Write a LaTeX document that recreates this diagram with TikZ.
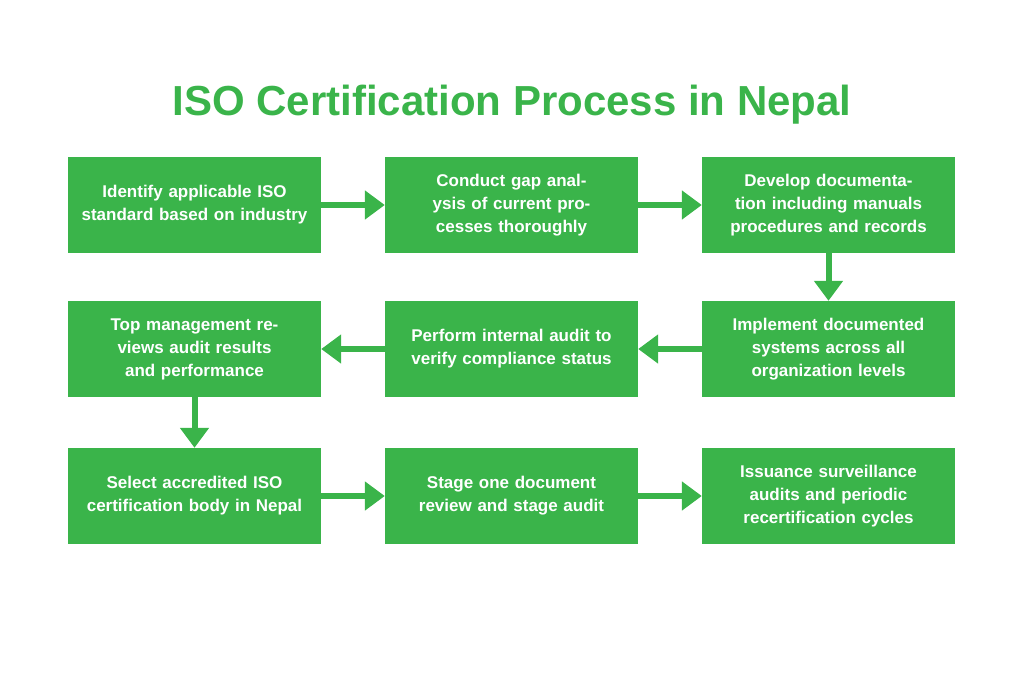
\documentclass[tikz,border=0pt]{standalone}
\usepackage{fontspec}
\setmainfont{Liberation Sans}
\usetikzlibrary{positioning,arrows.meta}
\definecolor{isogreen}{HTML}{3AB44A}
\tikzset{
  stepbox/.style={fill=isogreen, text=white, minimum width=253pt, minimum height=96pt,
    text width=235pt, align=center, font=\fontsize{17}{23}\selectfont\bfseries, inner sep=0pt},
  flow/.style={draw=isogreen, line width=6pt, -{Triangle[length=20pt,width=28pt]}}
}
\begin{document}
\begin{tikzpicture}[x=1pt,y=-1pt]
\useasboundingbox (0,0) rectangle (1024,683);
\node[text=isogreen, font=\fontsize{42}{48}\selectfont\bfseries] (title) at (512,105) {ISO Certification Process in Nepal};

% first row
\node[stepbox] (identify) at (194.5,205) {Identify applicable ISO standard based on industry};
\node[stepbox] (gap) at (511.5,205) {Conduct gap analysis of current processes thoroughly};
\node[stepbox] (docs) at (828.5,205) {Develop documentation including manuals procedures and records};

% second row
\node[stepbox] (review) at (194.5,349) {Top management reviews audit results and performance};
\node[stepbox] (internal) at (511.5,349) {Perform internal audit to verify compliance status};
\node[stepbox] (implement) at (828.5,349) {Implement documented systems across all organization levels};

% third row
\node[stepbox] (select) at (194.5,496) {Select accredited ISO certification body in Nepal};
\node[stepbox] (stage) at (511.5,496) {Stage one document review and stage audit};
\node[stepbox] (issue) at (828.5,496) {Issuance surveillance audits and periodic recertification cycles};

\draw[flow] (identify) -- (gap);
\draw[flow] (gap) -- (docs);
\draw[flow] (docs) -- (implement);
\draw[flow] (implement) -- (internal);
\draw[flow] (internal) -- (review);
\draw[flow] (review) -- (select);
\draw[flow] (select) -- (stage);
\draw[flow] (stage) -- (issue);
\end{tikzpicture}
\end{document}
